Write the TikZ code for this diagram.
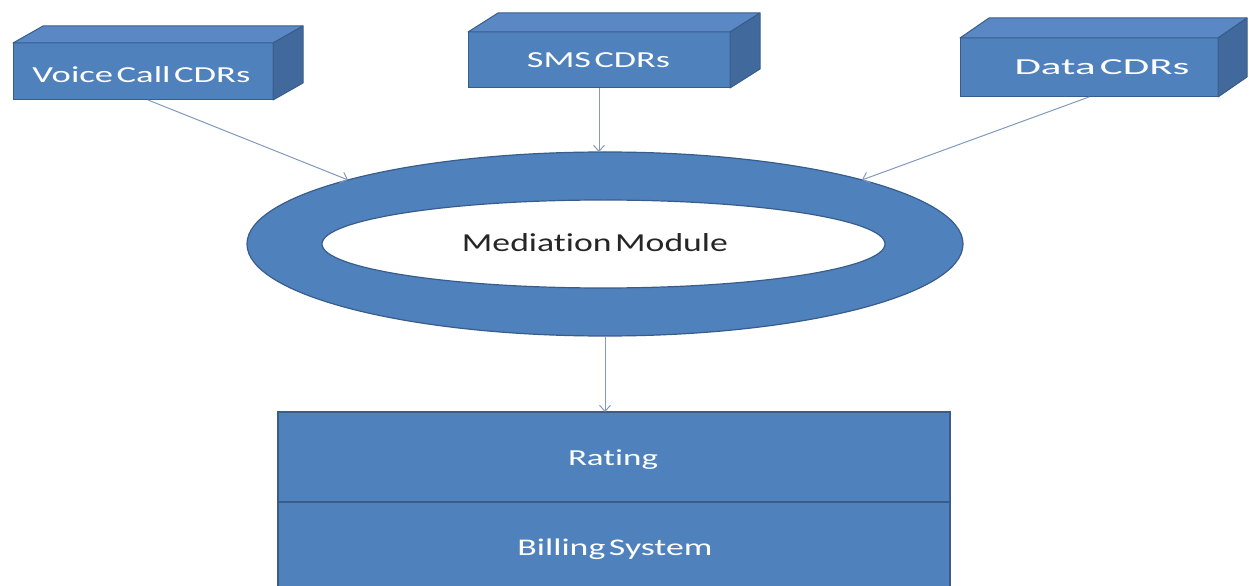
\documentclass[tikz,border=0pt]{standalone}
\usepackage{fontspec}
\setmainfont[WordSpace=0.45, RawFeature=-liga]{Carlito}
\usetikzlibrary{shapes.geometric,arrows.meta}
\definecolor{fillblue}{HTML}{4F81BD}
\definecolor{edgeblue}{HTML}{385D8A}
\definecolor{topblue}{HTML}{5A88C4}
\definecolor{sideblue}{HTML}{41699C}
\definecolor{arrowc}{HTML}{8299C0}
\newcommand{\wtext}[3]{\resizebox{#1bp}{\height}{\fontsize{#2}{#2}\selectfont #3}}
\newcommand{\cuboid}[3]{%
  \path[draw=edgeblue, fill=topblue, line width=1bp, line join=round]
    (#1.north west) -- ++(#2,#3) -- ([shift={(#2,#3)}]#1.north east) -- (#1.north east) -- cycle;
  \path[draw=edgeblue, fill=sideblue, line width=1bp, line join=round]
    (#1.north east) -- ++(#2,#3) -- ([shift={(#2,#3)}]#1.south east) -- (#1.south east) -- cycle;}
\begin{document}
\begin{tikzpicture}[x=1bp,y=-1bp,
  front/.style={draw=edgeblue, fill=fillblue, line width=1bp, inner sep=0pt, outer sep=0pt, anchor=north west},
  wlbl/.style={text=white, inner sep=0pt, anchor=base},
  conn/.style={draw=arrowc, line width=1bp, -{Straight Barb[length=6bp,width=11bp]}}]
\useasboundingbox (0,0) rectangle (1249,586);
\clip (0,0) rectangle (1249,586);
\fill[white] (0,0) rectangle (1249,586);

% source boxes
\node[front, minimum width=260bp, minimum height=57bp] (voice) at (13,43) {};
\cuboid{voice}{30}{-17}
\node[wlbl] (voicet) at (141.5,83) {\wtext{218}{23}{Voice Call CDRs}};

\node[front, minimum width=262bp, minimum height=56bp] (sms) at (468,32) {};
\cuboid{sms}{30}{-19}
\node[wlbl] (smst) at (598.5,68) {\wtext{143}{23}{SMS CDRs}};

\node[front, minimum width=258bp, minimum height=59bp] (data) at (960,38) {};
\cuboid{data}{29}{-20}
\node[wlbl] (datat) at (1102,75) {\wtext{175}{23}{Data CDRs}};

% mediation ring
\node[draw=edgeblue, fill=fillblue, ellipse, minimum width=716bp, minimum height=184bp,
      inner sep=0pt, outer sep=0pt, line width=1.2bp] (med) at (605,244) {};
\node[draw=edgeblue, fill=white, ellipse, minimum width=563bp, minimum height=88bp,
      inner sep=0pt, outer sep=0pt, line width=1.2bp] (medin) at (603.5,244) {};
\node[anchor=base, inner sep=0pt, text=black!85] (medt) at (595,252) {\wtext{266}{26}{Mediation Module}};

% rating / billing
\node[front, minimum width=672bp, minimum height=90bp, line width=1.5bp] (rating) at (278,412) {};
\node[front, minimum width=672bp, minimum height=92bp, line width=1.5bp] (billing) at (278,502) {};
\node[wlbl] (ratingt) at (613,465) {\wtext{90}{23}{Rating}};
\node[wlbl] (billingt) at (615,555) {\wtext{195}{24}{Billing System}};

% connectors
\draw[conn] ([xshift=5bp]voice.south) -- (med.166);
\draw[conn] (sms.south) -- (sms.south |- med.north);
\draw[conn] (data.south) -- (med.14);
\draw[conn] (med.south) -- (med.south |- rating.north);
\end{tikzpicture}
\end{document}
